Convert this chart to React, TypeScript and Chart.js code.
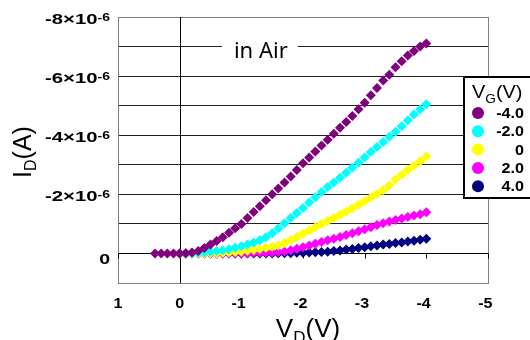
import React, { useEffect, useRef } from "react";
import { Chart, registerables } from "chart.js";

Chart.register(...registerables);

// Drain voltage sweep (V)
const VD = [
  0.4, 0.3, 0.2, 0.1,
  0.0, -0.1, -0.2, -0.3, -0.4, -0.5, -0.6, -0.7, -0.8, -0.9,
  -1.0, -1.1, -1.2, -1.3, -1.4, -1.5, -1.6, -1.7, -1.8, -1.9,
  -2.0, -2.1, -2.2, -2.3, -2.4, -2.5, -2.6, -2.7, -2.8, -2.9,
  -3.0, -3.1, -3.2, -3.3, -3.4, -3.5, -3.6, -3.7, -3.8, -3.9,
  -4.0,
];

// Drain current, in units of 1e-6 A
const ID_VG_M4 = [
  0, 0, 0, 0,
  0, -0.01, -0.03, -0.08, -0.18, -0.3, -0.42, -0.55, -0.7, -0.85,
  -1.0, -1.2, -1.4, -1.6, -1.8, -2.0, -2.2, -2.4, -2.6, -2.82,
  -3.05, -3.25, -3.45, -3.65, -3.85, -4.05, -4.25, -4.45, -4.65, -4.88,
  -5.1, -5.35, -5.6, -5.85, -6.05, -6.3, -6.5, -6.7, -6.85, -7.0,
  -7.1,
];
const ID_VG_M2 = [
  null, null, null, null,
  0, 0, -0.01, -0.02, -0.04, -0.06, -0.08, -0.11, -0.14, -0.19,
  -0.24, -0.3, -0.37, -0.45, -0.55, -0.68, -0.84, -1.02, -1.2, -1.37,
  -1.54, -1.72, -1.9, -2.08, -2.25, -2.4, -2.56, -2.73, -2.9, -3.07,
  -3.25, -3.43, -3.6, -3.77, -3.95, -4.12, -4.3, -4.5, -4.7, -4.88,
  -5.05,
];
const ID_VG_0 = [
  null, null, null, null,
  0, 0, 0, 0, 0, -0.01, -0.01, -0.02, -0.03, -0.05,
  -0.07, -0.09, -0.12, -0.15, -0.19, -0.23, -0.27, -0.35, -0.45, -0.56,
  -0.67, -0.78, -0.89, -1.0, -1.1, -1.2, -1.31, -1.42, -1.53, -1.65,
  -1.77, -1.89, -2.01, -2.14, -2.3, -2.5, -2.66, -2.82, -2.97, -3.12,
  -3.28,
];
const ID_VG_P2 = [
  null, null, null, null,
  0, 0, 0, 0, 0, 0, 0, 0, -0.01, -0.01,
  -0.01, -0.01, -0.02, -0.02, -0.02, -0.03, -0.05, -0.07, -0.11, -0.16,
  -0.21, -0.27, -0.33, -0.39, -0.45, -0.5, -0.56, -0.62, -0.68, -0.75,
  -0.82, -0.89, -0.96, -1.02, -1.08, -1.13, -1.18, -1.23, -1.28, -1.33,
  -1.39,
];
const ID_VG_P4 = [
  null, null, null, null,
  0, 0, 0, 0, 0, 0, 0, 0, 0, 0,
  0, 0, 0, 0, 0, 0, -0.01, -0.01, -0.01, -0.02,
  -0.02, -0.03, -0.04, -0.05, -0.06, -0.08, -0.1, -0.13, -0.15, -0.18,
  -0.21, -0.24, -0.27, -0.3, -0.32, -0.35, -0.37, -0.4, -0.43, -0.46,
  -0.5,
];

const VG_LABELS = ["-4.0", "-2.0", "0", "2.0", "4.0"];
const SERIES_VALUES = [ID_VG_M4, ID_VG_M2, ID_VG_0, ID_VG_P2, ID_VG_P4];
const COLORS = ["#800080", "#00FFFF", "#FFFF00", "#FF00FF", "#000080"];

const X_TICKS = [1, 0, -1, -2, -3, -4, -5];
const Y_LABEL_TICKS = [-8, -6, -4, -2, 0];
const Y_EXPONENT = "-6";
const ANNOTATION = { text: "in Air", x: -0.88, y: -6.6 };
const LEGEND_TITLE = { main: "V", sub: "G", tail: "(V)" };
const X_TITLE = { main: "V", sub: "D", tail: "(V)" };
const Y_TITLE = { main: "I", sub: "D", tail: "(A)" };

const FONT = '"Liberation Sans", Arial, sans-serif';

function drawStretched(
  ctx: CanvasRenderingContext2D,
  text: string,
  x: number,
  y: number,
  font: string,
  sx: number,
  align: "left" | "right" | "center"
) {
  ctx.save();
  ctx.font = font;
  ctx.textAlign = "left";
  ctx.textBaseline = "alphabetic";
  const w = ctx.measureText(text).width * sx;
  const left = align === "left" ? x : align === "right" ? x - w : x - w / 2;
  ctx.translate(left, y);
  ctx.scale(sx, 1);
  ctx.fillText(text, 0, 0);
  ctx.restore();
  return w;
}

function measure(ctx: CanvasRenderingContext2D, text: string, font: string) {
  ctx.save();
  ctx.font = font;
  const w = ctx.measureText(text).width;
  ctx.restore();
  return w;
}

function drawSubTitle(
  ctx: CanvasRenderingContext2D,
  t: { main: string; sub: string; tail: string },
  size: number,
  subSize: number,
  subDrop: number,
  sx: number,
  center: boolean
) {
  const f1 = `${size}px ${FONT}`;
  const f2 = `${subSize}px ${FONT}`;
  const w1 = measure(ctx, t.main, f1) * sx;
  const w2 = measure(ctx, t.sub, f2) * sx;
  const w3 = measure(ctx, t.tail, f1) * sx;
  const total = w1 + w2 + w3;
  let x = center ? -total / 2 : 0;
  drawStretched(ctx, t.main, x, 0, f1, sx, "left");
  x += w1;
  drawStretched(ctx, t.sub, x, subDrop, f2, sx, "left");
  x += w2;
  drawStretched(ctx, t.tail, x, 0, f1, sx, "left");
}

const overlayPlugin = {
  id: "overlay",
  beforeDraw(chart: any) {
    const { ctx, width, height } = chart;
    ctx.save();
    ctx.fillStyle = "#ffffff";
    ctx.fillRect(0, 0, width, height);
    ctx.restore();
  },
  beforeDatasetsDraw(chart: any) {
    const { ctx, chartArea: a, scales } = chart;
    const xs = scales.x;
    const ys = scales.y;
    ctx.save();
    ctx.strokeStyle = "#808080";
    ctx.lineWidth = 1;
    ctx.strokeRect(Math.round(a.left) + 0.5, Math.round(a.top) + 0.5, Math.round(a.right - a.left), Math.round(a.bottom - a.top));
    const x0 = Math.round(xs.getPixelForValue(0)) + 0.5;
    const y0 = Math.round(ys.getPixelForValue(0)) + 0.5;
    ctx.strokeStyle = "#000000";
    ctx.beginPath();
    ctx.moveTo(x0, a.top);
    ctx.lineTo(x0, a.bottom);
    ctx.moveTo(a.left, y0);
    ctx.lineTo(a.right, y0);
    for (const v of X_TICKS) {
      const px = Math.round(xs.getPixelForValue(v)) + 0.5;
      ctx.moveTo(px, y0);
      ctx.lineTo(px, y0 + 5);
    }
    ctx.stroke();

    const af = `22px "Noto Sans", "DejaVu Sans", sans-serif`;
    const ax = xs.getPixelForValue(ANNOTATION.x);
    const ay = ys.getPixelForValue(ANNOTATION.y);
    const aw = measure(ctx, ANNOTATION.text, af);
    ctx.fillStyle = "#ffffff";
    ctx.fillRect(ax - 12, ay - 20, aw + 22, 24);
    ctx.fillStyle = "#000000";
    drawStretched(ctx, ANNOTATION.text, ax, ay, af, 1, "left");
    ctx.restore();
  },
  afterDraw(chart: any) {
    const { ctx, chartArea: a, scales } = chart;
    const xs = scales.x;
    const ys = scales.y;
    ctx.save();
    ctx.fillStyle = "#000000";

    const rightEdge = a.left - 8;
    for (const v of Y_LABEL_TICKS) {
      const py = ys.getPixelForValue(v);
      if (v === 0) {
        drawStretched(ctx, "0", rightEdge, py + 10.5, `bold 15px ${FONT}`, 1.3, "right");
      } else {
        const sw = drawStretched(ctx, Y_EXPONENT, rightEdge, py + 3.5, `bold 10px ${FONT}`, 1.4, "right");
        drawStretched(ctx, `${v}×10`, rightEdge - sw, py + 7, `bold 14px ${FONT}`, 1.45, "right");
      }
    }

    const xf = `bold 14px ${FONT}`;
    for (const v of X_TICKS) {
      const px = xs.getPixelForValue(v);
      const label = String(v);
      const dw = measure(ctx, label.slice(-1), xf) * 1.15;
      drawStretched(ctx, label, px + dw / 2, a.bottom + 25, xf, 1.15, "right");
    }

    ctx.save();
    ctx.translate((a.left + a.right) / 2 + 5, a.bottom + 54);
    drawSubTitle(ctx, X_TITLE, 26, 17, 6, 1, true);
    ctx.restore();

    ctx.save();
    ctx.translate(a.left - 87, (a.top + a.bottom) / 2 + 2);
    ctx.rotate(-Math.PI / 2);
    drawSubTitle(ctx, Y_TITLE, 25, 16, 5, 1, true);
    ctx.restore();

    const lx = 463;
    const ly = 76;
    ctx.fillStyle = "#ffffff";
    ctx.fillRect(lx, ly, 80, 122);
    ctx.strokeStyle = "#000000";
    ctx.lineWidth = 2;
    ctx.strokeRect(lx + 1, ly + 1, 80, 121);
    ctx.fillStyle = "#000000";
    ctx.save();
    ctx.translate(lx + 9, ly + 22);
    drawSubTitle(ctx, LEGEND_TITLE, 19, 13, 5, 1.05, false);
    ctx.restore();
    chart.data.datasets.forEach((ds: any, i: number) => {
      const cy = ly + 37 + i * 18.3;
      ctx.fillStyle = ds.backgroundColor;
      ctx.beginPath();
      ctx.arc(lx + 15, cy, 6, 0, Math.PI * 2);
      ctx.fill();
      ctx.fillStyle = "#000000";
      drawStretched(ctx, ds.label, lx + 61, cy + 5, `bold 14px ${FONT}`, 1.15, "right");
    });
    ctx.restore();
  },
};

export default function App() {
  const canvasRef = useRef<HTMLCanvasElement | null>(null);

  useEffect(() => {
    if (!canvasRef.current) return;
    const datasets = SERIES_VALUES.map((vals, si) => ({
      label: VG_LABELS[si],
      data: VD.map((vd, i) => (vals[i] == null ? null : { x: vd, y: vals[i] as number })).filter(
        (p) => p !== null
      ),
      backgroundColor: COLORS[si],
      borderColor: COLORS[si],
      pointStyle: "rectRot",
      pointRadius: 5,
      pointBorderWidth: 0,
      showLine: false,
    }));

    const chart = new Chart(canvasRef.current, {
      type: "scatter",
      data: { datasets: datasets as any },
      options: {
        animation: false,
        responsive: true,
        maintainAspectRatio: false,
        layout: { padding: { left: 118, right: 42, top: 17, bottom: 57 } },
        plugins: { legend: { display: false }, tooltip: { enabled: false } },
        scales: {
          x: {
            type: "linear",
            min: -5,
            max: 1,
            reverse: true,
            grid: { display: false, drawTicks: false },
            border: { display: false },
            ticks: { display: false, stepSize: 1 },
          },
          y: {
            type: "linear",
            min: -8,
            max: 1,
            reverse: true,
            grid: { color: "#222222", lineWidth: 1, drawTicks: false },
            border: { display: false },
            ticks: { display: false, stepSize: 1 },
          },
        },
      },
      plugins: [overlayPlugin],
    });
    return () => chart.destroy();
  }, []);

  return (
    <div style={{ position: "fixed", left: 0, top: 0, width: 530, height: 340, background: "#fff" }}>
      <canvas ref={canvasRef} />
    </div>
  );
}
